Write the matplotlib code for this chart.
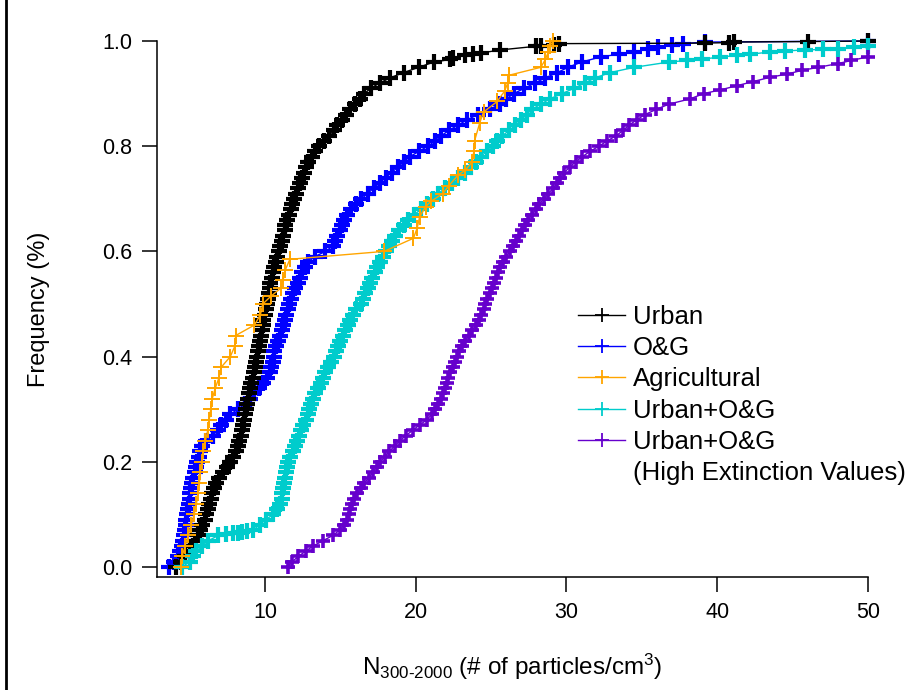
import matplotlib
matplotlib.use("Agg")
import matplotlib.pyplot as plt
from matplotlib.lines import Line2D

plt.rcParams['font.family'] = ['Liberation Sans', 'DejaVu Sans']
plt.rcParams['mathtext.fontset'] = 'custom'
plt.rcParams['mathtext.rm'] = 'Liberation Sans'
plt.rcParams['mathtext.default'] = 'regular'

# ---- cumulative distributions: N300-2000 value and cumulative frequency ----
urban_n = [4.1, 4.4, 4.7, 5.0, 5.2, 5.35, 5.55, 5.7, 5.85, 6.0,
           6.1, 6.2, 6.3, 6.4, 6.5, 6.6, 6.75, 6.95, 7.2, 7.45,
           7.7, 7.9, 8.05, 8.2, 8.3, 8.4, 8.5, 8.55, 8.6, 8.7,
           8.75, 8.8, 8.9, 8.95, 9.0, 9.1, 9.2, 9.25, 9.35, 9.4,
           9.5, 9.55, 9.6, 9.7, 9.75, 9.8, 9.85, 9.9, 10.0, 10.05,
           10.1, 10.2, 10.25, 10.3, 10.35, 10.45, 10.5, 10.6, 10.7, 10.8,
           10.9, 11.0, 11.1, 11.2, 11.3, 11.35, 11.45, 11.6, 11.7, 11.8,
           11.95, 12.05, 12.2, 12.35, 12.45, 12.6, 12.7, 12.85, 13.1, 13.35,
           13.6, 13.9, 14.25, 14.55, 14.8, 15.1, 15.4, 15.65, 15.95, 16.3,
           16.6, 17.0, 17.6, 18.3, 19.2, 20.2, 21.2,
           22.3, 22.5, 23.3, 23.8, 24.3, 25.6, 28.0, 28.3, 29.2, 29.5,
           39.2, 40.8, 41.1, 46.0, 50.0]
urban_freq = [0.00, 0.01, 0.02, 0.03, 0.04, 0.05, 0.06, 0.07, 0.08, 0.09,
              0.10, 0.11, 0.12, 0.13, 0.14, 0.15, 0.16, 0.17, 0.18, 0.19,
              0.20, 0.21, 0.22, 0.23, 0.24, 0.25, 0.26, 0.27, 0.28, 0.29,
              0.30, 0.31, 0.32, 0.33, 0.34, 0.35, 0.36, 0.37, 0.38, 0.39,
              0.40, 0.41, 0.42, 0.43, 0.44, 0.45, 0.46, 0.47, 0.48, 0.49,
              0.50, 0.51, 0.52, 0.53, 0.54, 0.55, 0.56, 0.57, 0.58, 0.59,
              0.60, 0.61, 0.62, 0.63, 0.64, 0.65, 0.66, 0.67, 0.68, 0.69,
              0.70, 0.71, 0.72, 0.73, 0.74, 0.75, 0.76, 0.77, 0.78, 0.79,
              0.80, 0.81, 0.82, 0.83, 0.84, 0.85, 0.86, 0.87, 0.88, 0.89,
              0.90, 0.91, 0.92, 0.93, 0.94, 0.95, 0.96,
              0.965, 0.967, 0.973, 0.975, 0.977, 0.983, 0.990, 0.991, 0.993, 0.995,
              0.996, 0.997, 0.998, 0.999, 1.000]

og_n = [3.6, 3.95, 4.2, 4.35, 4.5, 4.57, 4.63, 4.7, 4.73, 4.77,
        4.8, 4.87, 4.93, 5.0, 5.05, 5.1, 5.17, 5.25, 5.33, 5.42,
        5.52, 5.62, 5.72, 5.82, 6.1, 6.55, 6.85, 7.1, 7.4, 7.7,
        8.2, 8.7, 9.0, 9.3, 9.6, 9.9, 10.15, 10.3, 10.4, 10.5,
        10.57, 10.63, 10.7, 10.83, 10.97, 11.1, 11.2, 11.3, 11.38, 11.5,
        11.62, 11.75, 11.88, 12.02, 12.16, 12.3, 12.47, 12.63, 12.85, 13.3,
        14.0, 14.5, 14.65, 14.8, 14.95, 15.1, 15.25, 15.45, 15.7, 16.05,
        16.4, 16.8, 17.2, 17.6, 18.0, 18.4, 18.8, 19.2, 19.6, 20.2,
        20.8, 21.3, 21.7, 22.2, 22.8, 23.4, 24.1, 24.9, 25.6, 26.0,
        26.5, 27.2, 27.9, 28.6, 29.4, 30.1, 31.0, 32.3,
        33.5, 34.5, 35.4, 36.1, 37.0, 37.7, 39.2, 50.0]
og_freq = [0.00, 0.01, 0.02, 0.03, 0.04, 0.05, 0.06, 0.07, 0.08, 0.09,
           0.10, 0.11, 0.12, 0.13, 0.14, 0.15, 0.16, 0.17, 0.18, 0.19,
           0.20, 0.21, 0.22, 0.23, 0.24, 0.25, 0.26, 0.27, 0.28, 0.29,
           0.30, 0.31, 0.32, 0.33, 0.34, 0.35, 0.36, 0.37, 0.38, 0.39,
           0.40, 0.41, 0.42, 0.43, 0.44, 0.45, 0.46, 0.47, 0.48, 0.49,
           0.50, 0.51, 0.52, 0.53, 0.54, 0.55, 0.56, 0.57, 0.58, 0.59,
           0.60, 0.61, 0.62, 0.63, 0.64, 0.65, 0.66, 0.67, 0.68, 0.69,
           0.70, 0.71, 0.72, 0.73, 0.74, 0.75, 0.76, 0.77, 0.78, 0.79,
           0.80, 0.81, 0.82, 0.83, 0.84, 0.85, 0.86, 0.87, 0.88, 0.89,
           0.90, 0.91, 0.92, 0.93, 0.94, 0.95, 0.96, 0.97,
           0.975, 0.979, 0.985, 0.989, 0.992, 0.995, 0.998, 1.000]

agri_n = [4.4, 4.5, 4.7, 4.9, 5.1, 5.3, 5.45, 5.55, 5.65, 5.7,
          5.8, 5.9, 6.05, 6.2, 6.3, 6.4, 6.5, 6.7, 6.95, 7.1,
          7.7, 8.0, 8.05, 9.3, 9.7, 9.85, 10.4, 11.05, 11.2, 11.35,
          11.65, 17.9, 19.85, 20.1, 20.25, 20.65, 21.0, 21.8, 22.2, 22.8,
          23.3, 23.75, 23.85, 23.9, 24.25, 24.5, 25.4, 25.9, 26.1, 26.2,
          28.3, 28.6, 28.8, 28.9, 29.1]
agri_freq = [0.00, 0.02, 0.04, 0.06, 0.08, 0.10, 0.12, 0.14, 0.16, 0.18,
             0.20, 0.22, 0.24, 0.26, 0.28, 0.30, 0.32, 0.34, 0.36, 0.38,
             0.40, 0.42, 0.44, 0.46, 0.48, 0.50, 0.515, 0.53, 0.545, 0.565,
             0.585, 0.60, 0.625, 0.645, 0.665, 0.685, 0.695, 0.71, 0.725, 0.745,
             0.755, 0.77, 0.79, 0.81, 0.845, 0.865, 0.885, 0.905, 0.92, 0.935,
             0.95, 0.965, 0.98, 0.99, 1.00]

uog_n = [4.5, 5.0, 5.2, 5.45, 5.8, 6.25, 6.9, 7.4, 7.9, 8.2,
         8.5, 8.8, 9.2, 9.65, 10.05, 10.55, 10.8, 11.0, 11.1, 11.15,
         11.22, 11.28, 11.33, 11.4, 11.47, 11.55, 11.68, 11.85, 12.0, 12.13,
         12.27, 12.4, 12.55, 12.7, 12.85, 12.95, 13.05, 13.2, 13.35, 13.5,
         13.7, 13.85, 14.0, 14.2, 14.4, 14.55, 14.7, 14.85, 15.0, 15.15,
         15.3, 15.5, 15.65, 15.85, 16.05, 16.35, 16.5, 16.65, 16.8, 16.95,
         17.1, 17.3, 17.45, 17.6, 17.8, 18.0, 18.2, 18.45, 18.65, 18.9,
         19.2, 19.5, 19.9, 20.35, 20.75, 21.15, 21.5, 21.95, 22.4, 22.8,
         23.25, 23.65, 24.0, 24.3, 24.7, 25.1, 25.4, 25.75, 26.2, 26.6,
         27.0, 27.35, 27.7, 28.3, 28.9, 29.7, 30.5, 31.2, 31.9, 32.9,
         34.5, 36.8, 38.0, 39.0, 40.2, 41.3, 42.2, 43.5, 44.5, 45.8,
         47.0, 48.0, 49.1, 50.0]
uog_freq = [0.00, 0.01, 0.02, 0.03, 0.04, 0.05, 0.06, 0.062, 0.064, 0.065,
            0.066, 0.068, 0.07, 0.08, 0.09, 0.10, 0.11, 0.12, 0.13, 0.14,
            0.15, 0.16, 0.17, 0.18, 0.19, 0.20, 0.21, 0.22, 0.23, 0.24,
            0.25, 0.26, 0.27, 0.28, 0.29, 0.30, 0.31, 0.32, 0.33, 0.34,
            0.35, 0.36, 0.37, 0.38, 0.39, 0.40, 0.41, 0.42, 0.43, 0.44,
            0.45, 0.46, 0.47, 0.48, 0.49, 0.50, 0.51, 0.52, 0.53, 0.54,
            0.55, 0.56, 0.57, 0.58, 0.59, 0.60, 0.61, 0.62, 0.63, 0.64,
            0.65, 0.66, 0.67, 0.68, 0.69, 0.70, 0.71, 0.72, 0.73, 0.74,
            0.75, 0.76, 0.77, 0.78, 0.79, 0.80, 0.81, 0.82, 0.83, 0.84,
            0.85, 0.86, 0.87, 0.88, 0.89, 0.90, 0.91, 0.92, 0.93, 0.94,
            0.95, 0.96, 0.963, 0.966, 0.969, 0.973, 0.975, 0.979, 0.981, 0.983,
            0.984, 0.985, 0.989, 0.990]

uog_hi_n = [11.5, 11.8, 12.2, 12.7, 13.2, 13.85, 14.5, 14.95, 15.25, 15.45,
            15.55, 15.65, 15.75, 15.9, 16.1, 16.35, 16.6, 16.9, 17.15, 17.4,
            17.65, 17.95, 18.25, 18.6, 18.95, 19.35, 19.8, 20.25, 20.75, 21.05,
            21.3, 21.5, 21.65, 21.8, 21.95, 22.05, 22.15, 22.3, 22.45, 22.6,
            22.75, 22.9, 23.05, 23.3, 23.5, 23.75, 24.0, 24.2, 24.35, 24.5,
            24.6, 24.75, 24.9, 25.05, 25.2, 25.35, 25.45, 25.6, 25.8, 26.0,
            26.25, 26.45, 26.65, 26.85, 27.05, 27.25, 27.45, 27.7, 27.95, 28.2,
            28.5, 28.8, 29.1, 29.4, 29.6, 29.85, 30.2, 30.6, 31.05, 31.55,
            32.15, 32.7, 33.3, 33.75, 34.15, 34.65, 35.2, 35.95, 36.8, 38.2,
            39.1, 40.2, 41.3, 42.4, 43.5, 44.6, 45.6, 46.7, 48.0, 48.9,
            50.0]
uog_hi_freq = [0.00, 0.01, 0.02, 0.03, 0.04, 0.05, 0.06, 0.07, 0.08, 0.09,
               0.10, 0.11, 0.12, 0.13, 0.14, 0.15, 0.16, 0.17, 0.18, 0.19,
               0.20, 0.21, 0.22, 0.23, 0.24, 0.25, 0.26, 0.27, 0.28, 0.29,
               0.30, 0.31, 0.32, 0.33, 0.34, 0.35, 0.36, 0.37, 0.38, 0.39,
               0.40, 0.41, 0.42, 0.43, 0.44, 0.45, 0.46, 0.47, 0.48, 0.49,
               0.50, 0.51, 0.52, 0.53, 0.54, 0.55, 0.56, 0.57, 0.58, 0.59,
               0.60, 0.61, 0.62, 0.63, 0.64, 0.65, 0.66, 0.67, 0.68, 0.69,
               0.70, 0.71, 0.72, 0.73, 0.74, 0.75, 0.76, 0.77, 0.78, 0.79,
               0.80, 0.81, 0.82, 0.83, 0.84, 0.85, 0.86, 0.87, 0.88, 0.89,
               0.90, 0.907, 0.915, 0.923, 0.931, 0.937, 0.944, 0.950, 0.957, 0.963,
               0.970]

x_ticks = [10, 20, 30, 40, 50]
y_ticks = [0.0, 0.2, 0.4, 0.6, 0.8, 1.0]

# label, values, frequencies, colour, z-order, marker size, marker edge width
series = [
    ("Urban", urban_n, urban_freq, "#000000", 4, 11, 3.0),
    ("O&G", og_n, og_freq, "#0000ff", 3, 11, 3.0),
    ("Agricultural", agri_n, agri_freq, "#ffa500", 6, 11, 1.4),
    ("Urban+O&G", uog_n, uog_freq, "#00cccc", 4.5, 11, 3.0),
    ("Urban+O&G", uog_hi_n, uog_hi_freq, "#6600cc", 5, 10.5, 2.6),
]

W, H = 907, 690
fig = plt.figure(figsize=(W / 100, H / 100), dpi=100)
ax = fig.add_axes([157 / W, 113 / H, (868 - 157) / W, (577 - 41) / H])

handles = []
for label, xs, fs, color, z, ms, mew in series:
    ln, = ax.plot(xs, fs, color=color, lw=1.0, marker='+', ms=ms, mew=mew,
                  zorder=z, clip_on=False, label=label)
    handles.append(ln)

ax.set_xlim(2.836, 50)
ax.set_ylim(-0.019, 1.0)
ax.set_xticks(x_ticks)
ax.set_yticks(y_ticks)
ax.set_yticklabels([f"{v:.1f}" for v in y_ticks])
ax.tick_params(direction='out', length=11, width=1.1, labelsize=15.5, pad=7,
               colors='#000000')
for side in ('top', 'right'):
    ax.spines[side].set_visible(False)
for side in ('left', 'bottom'):
    ax.spines[side].set_linewidth(1.1)

ax.set_xlabel('N$_{300\u20102000}$ (# of particles/cm$^{3}$)', fontsize=17.5,
              labelpad=21)
ax.set_ylabel('Frequency (%)', fontsize=17, labelpad=37)

# legend handles: the last entry's label continues on a sixth row
extra = Line2D([], [], linestyle='none', marker=None)
leg_handles = [Line2D([], [], color=h.get_color(), lw=1.0, marker='+', ms=10,
                      mew=1.3) for h in handles]
leg = ax.legend(leg_handles + [extra],
                [s[0] for s in series] + ["(High Extinction Values)"],
                loc='upper left', bbox_to_anchor=(578 / W, 1 - 305 / H),
                bbox_transform=fig.transFigure, frameon=False, fontsize=18.5,
                handlelength=1.83, handletextpad=0.31, labelspacing=0.28,
                borderpad=0, borderaxespad=0, numpoints=1)

# page border line on the left edge
fig.add_artist(Line2D([6 / W, 6 / W], [0, 1], transform=fig.transFigure,
                      color='black', lw=2.0))

fig.savefig("out.png", dpi=100)
